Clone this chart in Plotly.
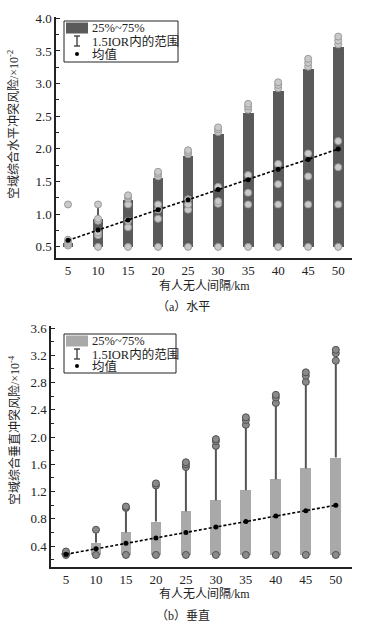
import plotly.graph_objects as go

W, H = 375, 626

# ---------------- data ----------------
spacing = [5, 10, 15, 20, 25, 30, 35, 40, 45, 50]
x_ticks = ["5", "10", "15", "20", "25", "30", "35", "40", "45", "50"]

# (a) horizontal risk, x10^-2
h_q1 = [0.50, 0.50, 0.50, 0.50, 0.50, 0.50, 0.50, 0.50, 0.50, 0.50]
h_q3 = [0.56, 0.92, 1.22, 1.55, 1.89, 2.23, 2.55, 2.89, 3.22, 3.56]
h_whisk = [0.58, 1.15, 1.25, 1.58, 1.92, 2.26, 2.60, 2.93, 3.26, 3.60]
h_mean = [0.60, 0.76, 0.91, 1.07, 1.22, 1.38, 1.53, 1.69, 1.84, 2.00]
h_points = [
    [0.52, 0.55, 0.58, 0.61, 1.15],
    [0.50, 0.68, 0.72, 0.90, 0.93, 1.15],
    [0.50, 0.80, 0.90, 1.15, 1.24, 1.27, 1.29],
    [0.50, 0.93, 1.07, 1.15, 1.58, 1.62, 1.65],
    [0.50, 1.07, 1.15, 1.23, 1.92, 1.95, 1.98],
    [0.50, 1.16, 1.20, 1.42, 2.26, 2.30, 2.33],
    [0.50, 1.15, 1.33, 1.60, 2.60, 2.65, 2.69],
    [0.50, 1.15, 1.46, 1.77, 2.93, 2.98, 3.02],
    [0.50, 1.15, 1.58, 1.93, 3.26, 3.32, 3.38],
    [0.50, 1.15, 1.72, 2.12, 3.60, 3.66, 3.72],
]

# (b) vertical risk, x10^-4
v_q1 = [0.27, 0.27, 0.27, 0.27, 0.27, 0.27, 0.27, 0.27, 0.27, 0.27]
v_q3 = [0.29, 0.45, 0.60, 0.76, 0.91, 1.07, 1.22, 1.38, 1.54, 1.70]
v_whisk = [0.30, 0.60, 0.93, 1.26, 1.56, 1.87, 2.18, 2.50, 2.81, 3.12]
v_mean = [0.28, 0.36, 0.44, 0.52, 0.60, 0.68, 0.76, 0.84, 0.92, 1.00]
v_points = [
    [0.27, 0.29, 0.32],
    [0.27, 0.64],
    [0.27, 0.96, 0.98],
    [0.27, 1.29, 1.32],
    [0.27, 1.56, 1.60, 1.63],
    [0.27, 1.87, 1.94, 1.97],
    [0.27, 2.18, 2.25, 2.29],
    [0.27, 2.50, 2.58, 2.62],
    [0.27, 2.81, 2.90, 2.95],
    [0.27, 3.12, 3.23, 3.28],
]

legend_labels = ["25%~75%", "1.5IOR内的范围", "均值"]
ytitle_a = "空域综合水平冲突风险/×10<sup>-2</sup>"
ytitle_b = "空域综合垂直冲突风险/×10<sup>-4</sup>"
xtitle = "有人无人间隔/km"
caption_a = "（a）水平"
caption_b = "（b）垂直"

FONT = "Liberation Serif, Noto Sans CJK SC, serif"
TXT = "#222"


def px(x):
    return x / W


def py(y):
    return 1 - y / H


fig = go.Figure()


def add_panel(xa, ya, q1, q3, wh, mean, pts, box_col, wh_col, pt_col, pt_line, pt_size):
    fig.add_trace(go.Bar(x=spacing, y=[b - a for a, b in zip(q1, q3)], base=q1,
                         width=1.8, marker=dict(color=box_col, line=dict(width=0)),
                         xaxis=xa, yaxis=ya, showlegend=False))
    wx, wy = [], []
    for xi, a, b in zip(spacing, q3, wh):
        wx += [xi, xi, None]
        wy += [a, b, None]
    fig.add_trace(go.Scatter(x=wx, y=wy, mode="lines", line=dict(color=wh_col, width=2),
                             xaxis=xa, yaxis=ya, showlegend=False, hoverinfo="skip"))
    px_, py_ = [], []
    for xi, p in zip(spacing, pts):
        px_ += [xi] * len(p)
        py_ += p
    fig.add_trace(go.Scatter(x=px_, y=py_, mode="markers",
                             marker=dict(color=pt_col, size=pt_size, line=dict(color=pt_line, width=1)),
                             xaxis=xa, yaxis=ya, showlegend=False))
    fig.add_trace(go.Scatter(x=spacing, y=mean, mode="lines+markers",
                             line=dict(color="black", width=1.6, dash="3px,2px"),
                             marker=dict(color="black", size=5),
                             xaxis=xa, yaxis=ya, showlegend=False))


add_panel("x", "y", h_q1, h_q3, h_whisk, h_mean, h_points,
          "#5a5a5a", "#5a5a5a", "#c9c9c9", "#9a9a9a", 7)
add_panel("x2", "y2", v_q1, v_q3, v_whisk, v_mean, v_points,
          "#a9a9a9", "#555555", "#8a8a8a", "#505050", 7)

axis_common = dict(showline=True, linecolor=TXT, linewidth=1.5, mirror=False,
                   showgrid=False, zeroline=False, automargin=False,
                   tickfont=dict(family=FONT, size=13, color=TXT))

fig.update_layout(
    width=W, height=H, margin=dict(l=0, r=0, t=0, b=0, pad=0),
    paper_bgcolor="white", plot_bgcolor="white",
    bargap=0, showlegend=False,
    font=dict(family=FONT, size=12, color=TXT),
    xaxis=dict(domain=[px(56), px(352)], range=[3.0, 52.3], anchor="y",
               tickvals=spacing, ticktext=x_ticks, ticks="", **axis_common),
    yaxis=dict(domain=[py(258), py(17)], range=[0.33, 4.02], anchor="x",
               tickvals=[0.5, 1.0, 1.5, 2.0, 2.5, 3.0, 3.5, 4.0],
               ticktext=["0.5", "1.0", "1.5", "2.0", "2.5", "3.0", "3.5", "4.0"],
               ticks="inside", ticklen=4, tickcolor=TXT,
               minor=dict(dtick=0.25, tick0=0, ticks="inside", ticklen=3, tickcolor=TXT),
               **axis_common),
    xaxis2=dict(domain=[px(51), px(352)], range=[2.5, 52.7], anchor="y2",
                tickvals=spacing, ticktext=x_ticks, ticks="", **axis_common),
    yaxis2=dict(domain=[py(567), py(326)], range=[0.093, 3.63], anchor="x2",
                tickvals=[0.4, 0.8, 1.2, 1.6, 2.0, 2.4, 2.8, 3.2, 3.6],
                ticktext=["0.4", "0.8", "1.2", "1.6", "2.0", "2.4", "2.8", "3.2", "3.6"],
                ticks="inside", ticklen=4, tickcolor=TXT,
                minor=dict(dtick=0.2, tick0=0, ticks="inside", ticklen=3, tickcolor=TXT),
                **axis_common),
)

ann = []
shapes = []


def add_texts(ytitle, ytitle_cy, xt_y, cap, cap_y, xt_cx):
    ann.append(dict(x=px(14), y=py(ytitle_cy), xref="paper", yref="paper", text=ytitle,
                    textangle=-90, showarrow=False, xanchor="center", yanchor="middle",
                    font=dict(family=FONT, size=12, color=TXT)))
    ann.append(dict(x=px(xt_cx), y=py(xt_y), xref="paper", yref="paper", text=xtitle,
                    showarrow=False, xanchor="center", yanchor="middle",
                    font=dict(family=FONT, size=12, color=TXT)))
    ann.append(dict(x=px(183), y=py(cap_y), xref="paper", yref="paper", text=cap,
                    showarrow=False, xanchor="center", yanchor="middle",
                    font=dict(family=FONT, size=12, color=TXT)))


add_texts(ytitle_a, 125, 286, caption_a, 307, 204)
add_texts(ytitle_b, 430, 594, caption_b, 616, 204)


def add_legend(x0, y0, x1, y1, swatch_col, rows):
    shapes.append(dict(type="rect", xref="paper", yref="paper", x0=px(x0), x1=px(x1),
                       y0=py(y1), y1=py(y0), line=dict(color=TXT, width=1),
                       fillcolor="white", layer="above"))
    shapes.append(dict(type="rect", xref="paper", yref="paper", x0=px(x0 + 2), x1=px(x0 + 24),
                       y0=py(rows[0] + 5.5), y1=py(rows[0] - 5.5), line=dict(width=0),
                       fillcolor=swatch_col, layer="above"))
    cx = x0 + 13
    r = rows[1]
    for seg in [(cx, r - 5, cx, r + 5), (cx - 3, r - 5, cx + 3, r - 5), (cx - 3, r + 5, cx + 3, r + 5)]:
        shapes.append(dict(type="line", xref="paper", yref="paper", x0=px(seg[0]), y0=py(seg[1]),
                           x1=px(seg[2]), y1=py(seg[3]), line=dict(color="#333", width=1.3),
                           layer="above"))
    r = rows[2]
    shapes.append(dict(type="circle", xref="paper", yref="paper", x0=px(cx - 2), x1=px(cx + 2),
                       y0=py(r + 2), y1=py(r - 2), fillcolor="black", line=dict(width=0),
                       layer="above"))
    for lab, r in zip(legend_labels, rows):
        ann.append(dict(x=px(x0 + 26), y=py(r), xref="paper", yref="paper", text=lab,
                        showarrow=False, xanchor="left", yanchor="middle",
                        font=dict(family=FONT, size=12.5, color=TXT)))


add_legend(64, 21, 178, 62, "#5a5a5a", [28, 41, 54])
add_legend(64, 334, 176, 373, "#a9a9a9", [341, 354, 366])

fig.update_layout(annotations=ann, shapes=shapes)

fig.write_html("out.html", config={"displayModeBar": False},
               post_script="document.body.style.margin='0';document.body.style.overflow='hidden';")
